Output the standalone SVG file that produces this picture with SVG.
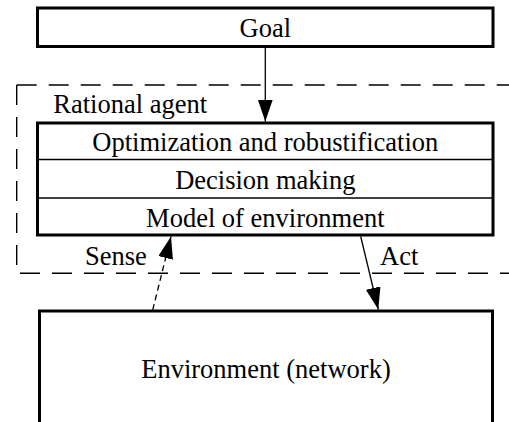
<svg xmlns="http://www.w3.org/2000/svg" width="509" height="422" viewBox="0 0 509 422">
  <style>
    .box { fill: #ffffff; stroke: #000000; stroke-width: 3; }
    .div { stroke: #000000; stroke-width: 1.3; fill: none; }
    .frame { fill: none; stroke: #000000; stroke-width: 1.4; stroke-dasharray: 20 12; }
    .link { fill: none; stroke: #000000; stroke-width: 1.3; }
    .dashed { stroke-dasharray: 6 4; }
    text { font-family: "Liberation Serif", "Times New Roman", serif; font-size: 26.5px; fill: #000000; }
    .c { text-anchor: middle; }
  </style>
  <defs>
    <marker id="head" markerUnits="userSpaceOnUse" markerWidth="24" markerHeight="16" refX="22" refY="7.5" orient="auto">
      <path d="M0,0 L22,7.5 L0,15 Z" fill="#000000"/>
    </marker>
  </defs>

  <rect width="509" height="422" fill="#ffffff"/>

  <!-- agent boundary: open on the right -->
  <g id="rational-agent-frame">
    <path class="frame" d="M16.7,85 H520"/>
    <path class="frame" d="M16.7,85 V273.3"/>
    <path class="frame" d="M20,273.3 H520"/>
    <text x="53.3" y="113.3">Rational agent</text>
  </g>

  <g id="goal">
    <rect class="box" x="37.5" y="8" width="455.5" height="38.5"/>
    <text class="c" x="265.3" y="36.7">Goal</text>
  </g>

  <g id="agent">
    <rect class="box" x="37.5" y="123" width="455.5" height="112"/>
    <line class="div" x1="37.5" y1="159.5" x2="493" y2="159.5"/>
    <line class="div" x1="37.5" y1="198" x2="493" y2="198"/>
    <text class="c" x="265.3" y="150.5">Optimization and robustification</text>
    <text class="c" x="265.3" y="189.3">Decision making</text>
    <text class="c" x="265.3" y="226.5">Model of environment</text>
  </g>

  <g id="environment">
    <rect class="box" x="39.5" y="311" width="453" height="140"/>
    <text class="c" x="266" y="377.5">Environment (network)</text>
  </g>

  <g id="connectors">
    <line class="link" x1="265.3" y1="46.5" x2="265.3" y2="121.5" marker-end="url(#head)"/>
    <line class="link dashed" x1="152.7" y1="310" x2="171" y2="236.5" marker-end="url(#head)"/>
    <line class="link" x1="360.7" y1="236.5" x2="378.3" y2="309.5" marker-end="url(#head)"/>
    <text x="85" y="265">Sense</text>
    <text x="380" y="265">Act</text>
  </g>
</svg>
